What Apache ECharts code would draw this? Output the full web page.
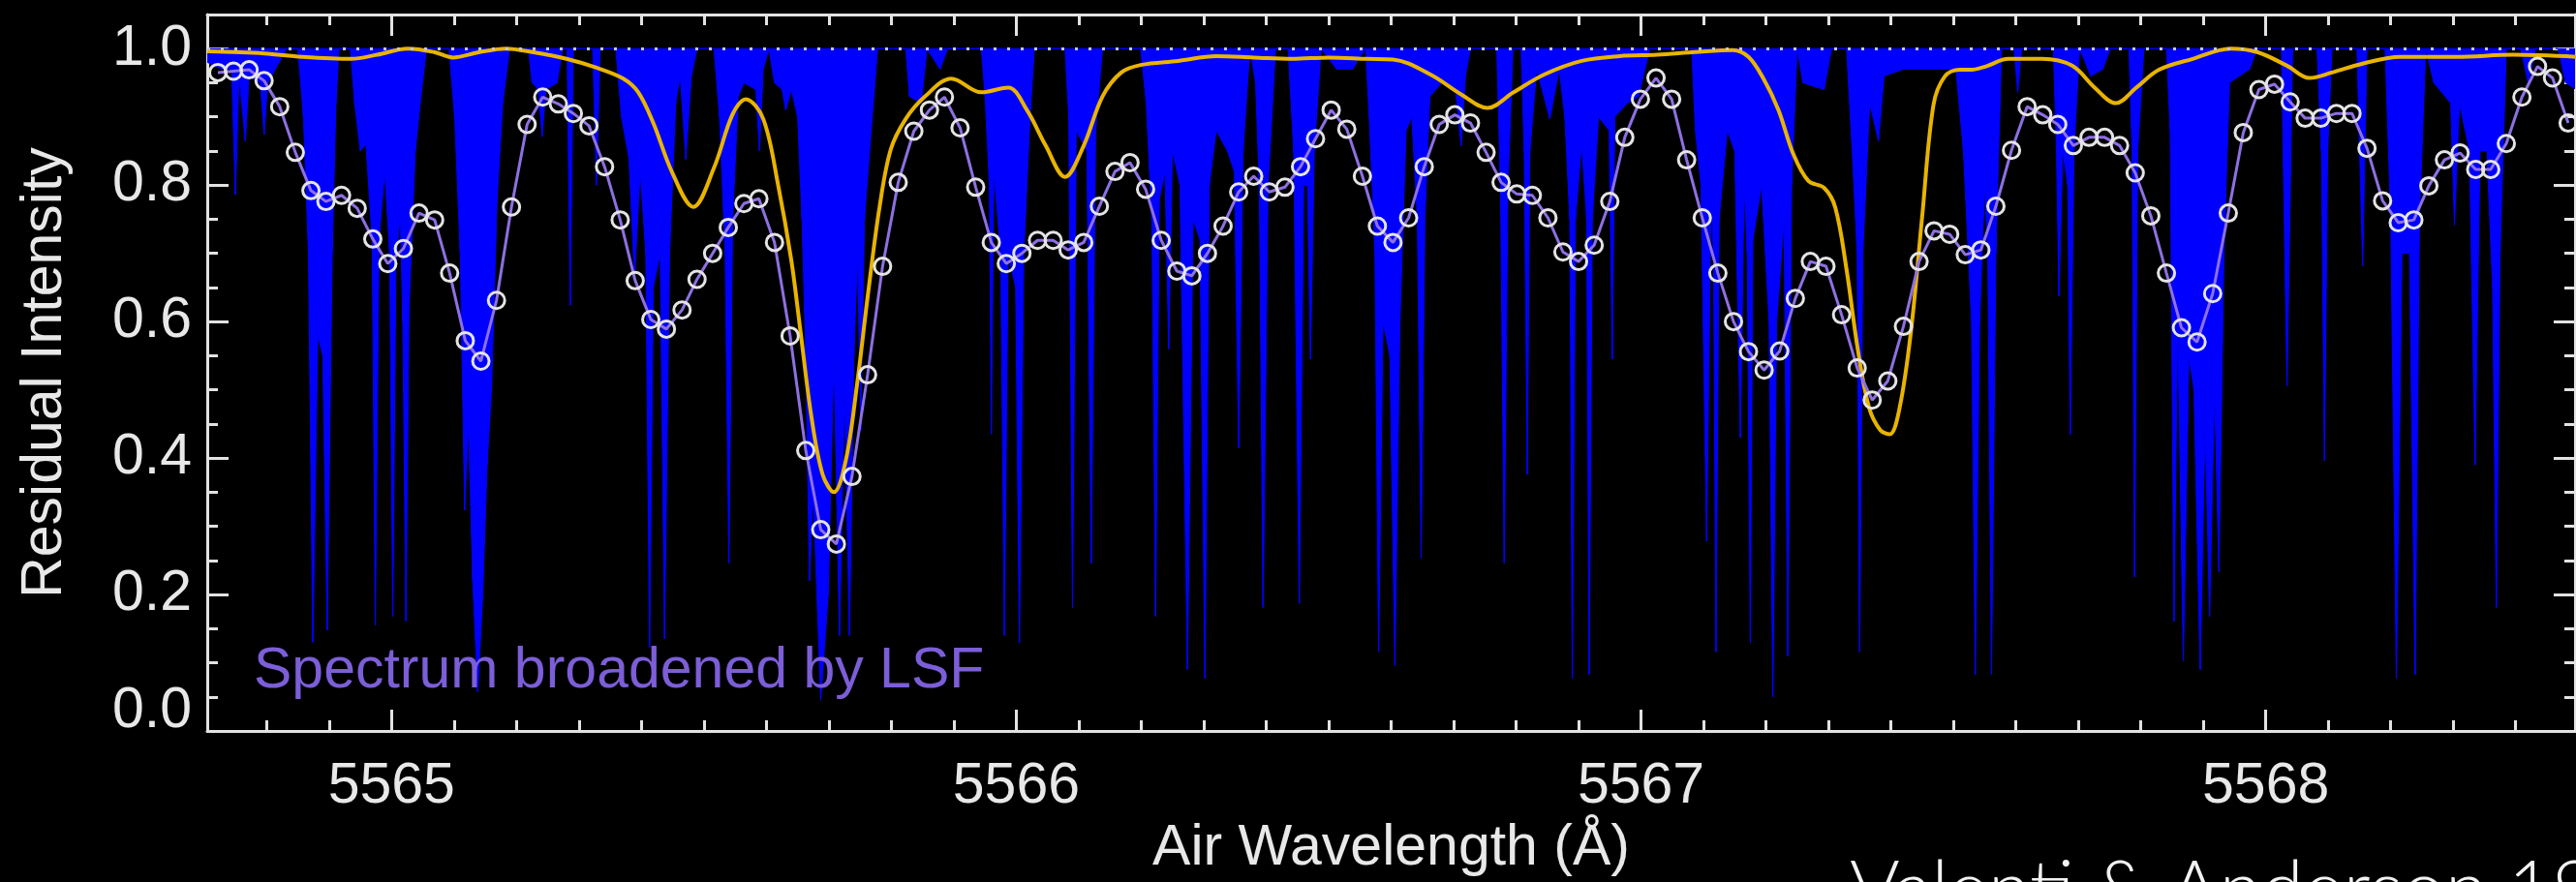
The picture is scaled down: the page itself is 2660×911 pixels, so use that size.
<!DOCTYPE html>
<html>
<head>
<meta charset="utf-8">
<script src="https://cdn.jsdelivr.net/npm/echarts@6/dist/echarts.min.js"></script>
<style>
html,body{margin:0;padding:0;background:#000;}
#c{width:2660px;height:911px;}
</style>
</head>
<body>
<div id="c"></div>
<script>
// ---------- DATA ----------
// High-resolution spectrum (blue): [wavelength, residual intensity]
const hiresSpectrum = [
[5564.705,0.98],[5564.729,0.97],[5564.744,0.97],[5564.750,0.786],[5564.756,0.96],[5564.766,0.864],[5564.772,0.96],[5564.790,0.95],[5564.796,0.874],[5564.802,0.95],[5564.820,0.98],[5564.832,1.0],[5564.850,1.0],[5564.859,0.90],[5564.867,0.70],[5564.874,0.13],[5564.882,0.58],[5564.890,0.55],[5564.897,0.148],[5564.905,0.70],[5564.911,0.92],[5564.916,1.0],[5564.934,1.0],[5564.941,0.92],[5564.950,0.85],[5564.959,0.86],[5564.969,0.72],[5564.974,0.155],[5564.980,0.72],[5564.989,0.82],[5564.997,0.70],[5565.002,0.168],[5565.007,0.68],[5565.014,0.76],[5565.018,0.60],[5565.023,0.161],[5565.028,0.62],[5565.038,0.85],[5565.047,0.93],[5565.056,1.0],
[5565.092,1.0],[5565.101,0.90],[5565.110,0.70],[5565.117,0.324],[5565.123,0.45],[5565.130,0.22],[5565.138,0.057],[5565.146,0.20],[5565.153,0.39],[5565.160,0.50],[5565.169,0.78],[5565.178,0.92],[5565.189,1.0],[5565.219,1.0],[5565.225,0.95],[5565.235,0.94],[5565.241,0.871],[5565.247,0.94],[5565.265,0.95],[5565.274,1.0],[5565.281,1.0],[5565.286,0.624],[5565.291,1.0],[5565.322,1.0],[5565.328,0.80],[5565.334,1.0],[5565.359,1.0],[5565.368,0.90],[5565.380,0.84],[5565.389,0.663],[5565.398,0.82],[5565.407,0.70],[5565.413,0.122],[5565.419,0.65],[5565.430,0.70],[5565.437,0.135],[5565.445,0.70],[5565.455,0.92],[5565.462,0.96],[5565.471,0.838],[5565.480,0.96],[5565.489,1.0],[5565.516,1.0],[5565.525,0.90],[5565.534,0.70],[5565.540,0.246],[5565.546,0.75],[5565.555,0.93],[5565.564,0.95],[5565.583,0.94],[5565.589,0.85],[5565.595,0.97],[5565.604,1.0],[5565.613,0.95],[5565.625,0.94],[5565.631,0.91],[5565.640,0.94],[5565.650,0.90],
[5565.657,0.75],[5565.663,0.55],[5565.669,0.22],[5565.675,0.35],[5565.687,0.045],[5565.699,0.20],[5565.708,0.55],[5565.717,0.14],[5565.725,0.50],[5565.733,0.14],[5565.740,0.55],[5565.746,0.70],[5565.751,0.44],[5565.757,0.75],[5565.766,0.86],[5565.778,1.0],[5565.823,1.0],[5565.829,0.93],[5565.848,0.92],[5565.857,1.0],[5565.878,0.97],[5565.890,1.0],[5565.944,1.0],[5565.950,0.93],[5565.957,0.80],[5565.960,0.435],[5565.964,0.82],[5565.975,0.70],[5565.981,0.14],[5565.987,0.70],[5565.999,0.65],[5566.005,0.129],[5566.012,0.70],[5566.022,0.90],[5566.029,1.0],[5566.078,1.0],[5566.084,0.90],[5566.090,0.181],[5566.096,0.88],[5566.113,0.85],[5566.120,0.246],[5566.127,0.88],[5566.138,1.0],[5566.199,1.0],[5566.208,0.92],[5566.217,0.75],[5566.223,0.168],[5566.229,0.78],[5566.238,0.82],[5566.244,0.56],[5566.250,0.85],[5566.262,0.80],[5566.274,0.09],[5566.283,0.75],[5566.294,0.72],[5566.302,0.077],[5566.309,0.80],[5566.320,0.88],[5566.338,0.85],[5566.349,0.82],[5566.356,0.415],[5566.363,0.85],[5566.374,1.0],[5566.383,0.95],[5566.389,0.80],[5566.395,0.181],[5566.403,0.80],[5566.415,1.0],[5566.435,1.0],[5566.444,0.85],[5566.453,0.187],[5566.460,0.80],[5566.466,0.80],[5566.471,0.545],[5566.477,0.85],[5566.488,1.0],[5566.513,0.97],[5566.538,0.97],[5566.559,1.0],[5566.565,0.90],[5566.574,0.70],[5566.580,0.116],[5566.587,0.60],[5566.598,0.55],
[5566.606,0.096],[5566.614,0.60],[5566.624,0.88],[5566.633,0.90],[5566.642,0.75],[5566.648,0.253],[5566.654,0.75],[5566.662,0.93],[5566.681,0.95],[5566.703,0.94],[5566.712,0.858],[5566.719,0.96],[5566.727,1.0],[5566.769,1.0],[5566.775,0.80],[5566.781,0.246],[5566.787,0.80],[5566.795,1.0],[5566.808,1.0],[5566.813,0.85],[5566.818,0.376],[5566.822,0.85],[5566.833,0.97],[5566.854,0.897],[5566.869,0.97],[5566.878,0.90],[5566.886,0.75],[5566.890,0.077],[5566.895,0.75],[5566.905,0.86],[5566.913,0.75],[5566.917,0.083],[5566.922,0.75],[5566.932,0.90],[5566.949,0.88],[5566.954,0.545],[5566.958,0.90],[5566.978,0.92],[5566.996,0.93],[5567.014,1.0],[5567.081,1.0],[5567.087,0.88],[5567.096,0.80],[5567.105,0.278],[5567.112,0.78],[5567.116,0.70],[5567.120,0.116],[5567.125,0.75],[5567.138,0.88],[5567.150,0.85],[5567.159,0.43],[5567.165,0.80],[5567.170,0.70],[5567.175,0.129],[5567.179,0.72],[5567.193,0.80],[5567.205,0.60],[5567.211,0.05],[5567.217,0.60],[5567.229,0.75],[5567.235,0.11],[5567.241,0.80],[5567.250,1.0],[5567.259,0.95],[5567.293,0.94],[5567.305,1.0],[5567.329,1.0],[5567.338,0.85],[5567.346,0.70],[5567.350,0.116],[5567.355,0.70],[5567.366,0.92],[5567.380,0.865],[5567.389,0.96],[5567.420,0.97],[5567.462,0.97],[5567.504,0.97],[5567.516,0.85],[5567.529,0.60],[5567.535,0.083],[5567.542,0.60],[5567.550,0.80],
[5567.555,0.70],[5567.561,0.083],[5567.568,0.70],[5567.577,1.0],[5567.597,1.0],[5567.603,0.936],[5567.609,1.0],[5567.660,1.0],[5567.665,0.85],[5567.669,0.637],[5567.675,0.85],[5567.683,0.80],[5567.687,0.435],[5567.693,0.85],[5567.702,1.0],[5567.720,0.96],[5567.739,0.97],[5567.751,1.0],[5567.781,1.0],[5567.786,0.85],[5567.790,0.226],[5567.795,0.85],[5567.805,1.0],[5567.841,1.0],[5567.847,0.88],[5567.853,0.161],[5567.859,0.60],[5567.868,0.103],[5567.877,0.55],[5567.885,0.50],[5567.895,0.09],[5567.903,0.45],[5567.910,0.168],[5567.918,0.50],[5567.925,0.233],[5567.933,0.70],[5567.942,0.95],[5567.974,0.97],[5567.986,1.0],[5568.025,1.0],[5568.034,0.506],[5568.043,1.0],[5568.082,1.0],[5568.089,0.85],[5568.094,0.396],[5568.099,0.85],[5568.106,1.0],[5568.146,1.0],[5568.155,0.682],[5568.162,1.0],[5568.191,1.0],[5568.200,0.75],[5568.209,0.077],[5568.218,0.70],[5568.230,0.70],[5568.239,0.083],[5568.246,0.75],[5568.256,1.0],[5568.269,0.95],[5568.296,0.92],[5568.302,0.741],[5568.310,0.92],[5568.326,0.85],[5568.335,0.39],[5568.343,0.85],[5568.354,0.85],[5568.363,0.65],[5568.369,0.181],[5568.375,0.70],[5568.385,1.0],[5568.408,1.0],[5568.420,0.95],[5568.432,1.0],[5568.468,1.0],[5568.480,0.95],[5568.497,0.94]
];

// Smooth model curve (yellow): [wavelength, residual intensity]
const modelCurve = [
[5564.705,0.996],[5564.796,0.993],[5564.856,0.988],[5564.935,0.985],[5564.977,0.991],[5565.026,1.0],[5565.068,0.995],[5565.098,0.987],[5565.141,0.995],[5565.183,1.0],[5565.225,0.995],[5565.280,0.985],[5565.328,0.972],[5565.371,0.956],[5565.395,0.936],[5565.419,0.891],[5565.449,0.819],[5565.483,0.768],[5565.516,0.825],[5565.546,0.904],[5565.567,0.926],[5565.595,0.897],[5565.619,0.799],[5565.640,0.689],[5565.654,0.59],[5565.672,0.461],[5565.690,0.376],[5565.708,0.350],[5565.727,0.396],[5565.745,0.507],[5565.763,0.643],[5565.781,0.767],[5565.799,0.852],[5565.823,0.897],[5565.854,0.930],[5565.896,0.956],[5565.944,0.936],[5565.987,0.943],[5566.017,0.910],[5566.047,0.858],[5566.078,0.812],[5566.108,0.858],[5566.138,0.930],[5566.168,0.965],[5566.199,0.976],[5566.259,0.982],[5566.320,0.989],[5566.380,0.987],[5566.441,0.985],[5566.501,0.987],[5566.562,0.985],[5566.603,0.984],[5566.663,0.962],[5566.712,0.933],[5566.754,0.913],[5566.796,0.936],[5566.845,0.962],[5566.905,0.982],[5566.966,0.989],[5567.026,0.991],[5567.087,0.995],[5567.147,0.998],[5567.172,0.988],[5567.196,0.956],[5567.220,0.910],[5567.244,0.845],[5567.268,0.806],[5567.293,0.796],[5567.311,0.767],[5567.329,0.676],[5567.347,0.559],[5567.365,0.474],[5567.383,0.441],[5567.398,0.435],[5567.414,0.474],[5567.432,0.585],[5567.450,0.754],[5567.468,0.917],[5567.486,0.959],[5567.510,0.969],[5567.529,0.969],[5567.552,0.974],[5567.588,0.985],[5567.642,0.985],[5567.690,0.975],[5567.726,0.943],[5567.760,0.920],[5567.793,0.943],[5567.829,0.969],[5567.883,0.985],[5567.944,1.0],[5567.986,0.995],[5568.034,0.975],[5568.070,0.957],[5568.106,0.965],[5568.155,0.978],[5568.215,0.988],[5568.305,0.988],[5568.396,0.991],[5568.497,0.988]
];

// Spectrum broadened by LSF (purple line + circles): [wavelength, residual intensity]
const lsfSpectrum = [
[5564.722,0.965],[5564.747,0.967],[5564.772,0.969],[5564.796,0.953],[5564.821,0.915],[5564.846,0.848],[5564.871,0.792],[5564.895,0.776],[5564.920,0.785],[5564.945,0.766],[5564.970,0.721],[5564.994,0.685],[5565.019,0.707],[5565.044,0.759],[5565.069,0.749],[5565.093,0.671],[5565.118,0.572],[5565.143,0.542],[5565.168,0.631],[5565.192,0.768],[5565.217,0.889],[5565.242,0.929],[5565.267,0.919],[5565.291,0.905],[5565.316,0.887],[5565.341,0.827],[5565.366,0.749],[5565.390,0.660],[5565.415,0.603],[5565.440,0.589],[5565.465,0.617],[5565.489,0.662],[5565.514,0.700],[5565.539,0.738],[5565.564,0.773],[5565.588,0.780],[5565.613,0.716],[5565.638,0.579],[5565.663,0.411],[5565.687,0.295],[5565.712,0.274],[5565.737,0.373],[5565.762,0.522],[5565.786,0.681],[5565.811,0.804],[5565.836,0.879],[5565.861,0.910],[5565.885,0.929],[5565.910,0.884],[5565.935,0.797],[5565.960,0.716],[5565.984,0.685],[5566.009,0.700],[5566.034,0.719],[5566.059,0.719],[5566.083,0.705],[5566.108,0.716],[5566.133,0.769],[5566.158,0.820],[5566.182,0.833],[5566.207,0.794],[5566.232,0.719],[5566.257,0.674],[5566.281,0.667],[5566.306,0.700],[5566.331,0.740],[5566.356,0.790],[5566.380,0.813],[5566.405,0.790],[5566.430,0.797],[5566.455,0.827],[5566.479,0.868],[5566.504,0.910],[5566.529,0.882],[5566.554,0.813],[5566.578,0.740],[5566.603,0.716],[5566.628,0.752],[5566.653,0.827],[5566.677,0.889],[5566.702,0.903],[5566.727,0.891],[5566.752,0.848],[5566.776,0.804],[5566.801,0.787],[5566.826,0.785],[5566.851,0.752],[5566.875,0.702],[5566.900,0.688],[5566.925,0.712],[5566.950,0.776],[5566.974,0.870],[5566.999,0.926],[5567.024,0.957],[5567.049,0.926],[5567.073,0.837],[5567.098,0.752],[5567.123,0.671],[5567.148,0.600],[5567.172,0.556],[5567.197,0.529],[5567.222,0.557],[5567.247,0.634],[5567.271,0.688],[5567.296,0.681],[5567.321,0.610],[5567.346,0.532],[5567.370,0.485],[5567.395,0.513],[5567.420,0.593],[5567.445,0.688],[5567.469,0.733],[5567.494,0.728],[5567.519,0.698],[5567.544,0.705],[5567.568,0.769],[5567.593,0.851],[5567.618,0.915],[5567.643,0.903],[5567.667,0.889],[5567.692,0.858],[5567.717,0.870],[5567.742,0.870],[5567.766,0.858],[5567.791,0.818],[5567.816,0.755],[5567.841,0.671],[5567.865,0.591],[5567.890,0.570],[5567.915,0.641],[5567.940,0.759],[5567.964,0.877],[5567.989,0.940],[5568.014,0.948],[5568.039,0.922],[5568.063,0.898],[5568.088,0.898],[5568.113,0.905],[5568.138,0.905],[5568.162,0.854],[5568.187,0.777],[5568.212,0.745],[5568.237,0.749],[5568.261,0.799],[5568.286,0.837],[5568.311,0.847],[5568.336,0.823],[5568.360,0.823],[5568.385,0.861],[5568.410,0.929],[5568.435,0.974],[5568.459,0.957],[5568.484,0.891]
];

const continuumLevel = 1.0;
const xRange = [5564.705, 5568.495];
const yRange = [0, 1.05];
const yTickStep = 0.2;
const texts = {
  xName: 'Air Wavelength (Å)',
  yName: 'Residual Intensity',
  note: 'Spectrum broadened by LSF',
  credit: 'Valenti & Anderson 1996'
};

// ---------- CHART ----------
const axisColor = '#e2e2e2';
const labelColor = '#e8e8e8';
const FONT = '"Liberation Sans", Arial, Helvetica, sans-serif';

// neighbouring spectrum samples paired up, so each piece can be filled up to the continuum
const spectrumSegments = hiresSpectrum.slice(1).map((p, i) => [hiresSpectrum[i][0], hiresSpectrum[i][1], p[0], p[1]]);

const chart = echarts.init(document.getElementById('c'), null, {renderer: 'canvas', width: 2660, height: 911});

function xAxisDef(pos, showLabels) {
  return {
    type: 'value', position: pos, min: xRange[0], max: xRange[1], splitNumber: 4,
    axisLine: {show: true, onZero: false, lineStyle: {color: axisColor, width: 3}},
    axisTick: {show: true, inside: true, length: 22, lineStyle: {color: axisColor, width: 3}},
    minorTick: {show: true, splitNumber: 10, length: 11, lineStyle: {color: axisColor, width: 3}},
    splitLine: {show: false}, minorSplitLine: {show: false},
    axisLabel: {
      show: showLabels, margin: 28, color: labelColor, fontSize: 59, fontFamily: FONT,
      showMinLabel: false, showMaxLabel: false,
      formatter: v => String(Math.round(v))
    },
    name: showLabels ? texts.xName : '', nameLocation: 'middle', nameGap: 92,
    nameTextStyle: {color: labelColor, fontSize: 59, fontFamily: FONT}
  };
}
function yAxisDef(pos, showLabels) {
  return {
    type: 'value', position: pos, min: yRange[0], max: yRange[1], interval: yTickStep,
    axisLine: {show: true, onZero: false, lineStyle: {color: axisColor, width: 3}},
    axisTick: {show: true, inside: true, length: 22, lineStyle: {color: axisColor, width: 3}},
    minorTick: {show: true, splitNumber: 4, length: 11, lineStyle: {color: axisColor, width: 3}},
    splitLine: {show: false}, minorSplitLine: {show: false},
    axisLabel: {
      show: showLabels, margin: 16, color: labelColor, fontSize: 59, fontFamily: FONT,
      lineHeight: 40, showMaxLabel: false, verticalAlignMinLabel: 'bottom',
      formatter: v => v.toFixed(1)
    },
    name: showLabels ? texts.yName : '', nameLocation: 'middle', nameGap: 138,
    nameTextStyle: {color: labelColor, fontSize: 59, fontFamily: FONT}
  };
}

const option = {
  backgroundColor: '#000000',
  animation: false,
  grid: {left: 214, right: 1, top: 15, bottom: 156, containLabel: false},
  xAxis: [xAxisDef('bottom', true), xAxisDef('top', false)],
  yAxis: [yAxisDef('left', true), yAxisDef('right', false)],
  series: [
    {
      name: 'spectrum', type: 'custom', xAxisIndex: 0, yAxisIndex: 0,
      data: spectrumSegments, encode: {x: [0, 2], y: [1, 3]}, clip: true, silent: true, z: 1,
      renderItem: function (params, api) {
        const a = api.coord([api.value(0), continuumLevel]);
        const b = api.coord([api.value(2), continuumLevel]);
        const c = api.coord([api.value(2), api.value(3)]);
        const d = api.coord([api.value(0), api.value(1)]);
        return {
          type: 'polygon', shape: {points: [a, b, c, d]},
          style: {fill: '#0000ff', stroke: '#0000ff', lineWidth: 1}
        };
      }
    },
    {
      name: 'model', type: 'line', data: modelCurve, smooth: 0.35, symbol: 'none',
      lineStyle: {color: '#e8b400', width: 4}, z: 3, silent: true,
      markLine: {
        silent: true, symbol: ['none', 'none'], animation: false,
        label: {show: false},
        lineStyle: {color: '#c8c8c8', width: 3, type: [3, 11]},
        data: [{yAxis: continuumLevel}]
      }
    },
    {
      name: 'lsf', type: 'line', data: lsfSpectrum, showAllSymbol: true,
      symbol: 'circle', symbolSize: 17,
      itemStyle: {color: 'rgba(0,0,0,0)', borderColor: '#e4e4e4', borderWidth: 3},
      lineStyle: {color: '#8e70e2', width: 3}, z: 4, silent: true
    }
  ],
  graphic: [
    {
      type: 'text', left: 262, top: 664, silent: true, z: 10,
      style: {text: texts.note, fill: '#7c5ed8', font: '59px ' + FONT}
    },
    {
      type: 'text', left: 1910, top: 880, silent: true, z: 10,
      style: {text: texts.credit, fill: '#f2f2f2', font: '300 79px Lato, "Open Sans", sans-serif'}
    }
  ]
};
chart.setOption(option);
</script>
</body>
</html>
